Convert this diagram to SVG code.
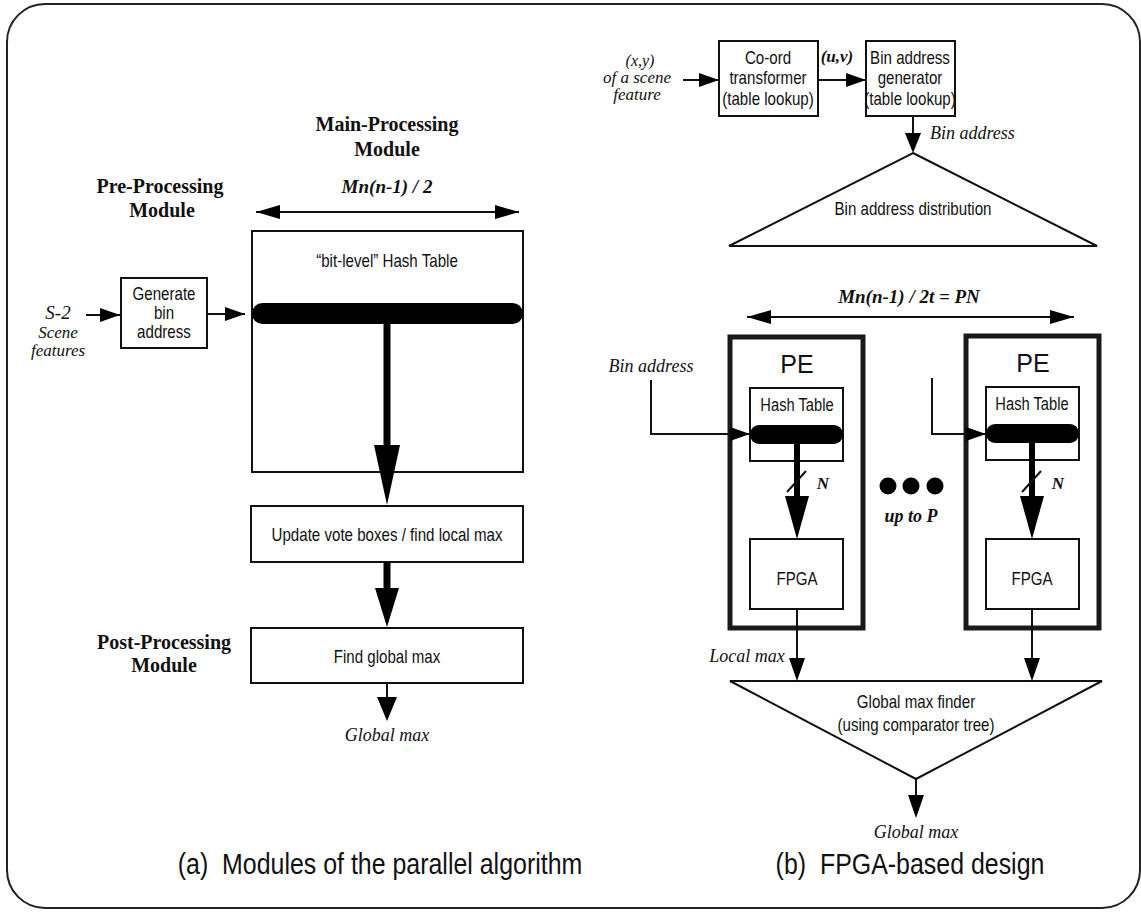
<svg xmlns="http://www.w3.org/2000/svg" width="1141" height="913" viewBox="0 0 1141 913">
  <style>
    .box { fill: #fff; stroke: #111; stroke-width: 2; }
    .pe { fill: #fff; stroke: #1a1a1a; stroke-width: 5; }
    .ln { fill: none; stroke: #111; stroke-width: 2; }
    .thick { fill: none; stroke: #000; stroke-width: 7; }
    .bar { fill: #000; }
    /* condensed sans: horizontal squeeze is applied per text via transform */
    .sans { font-family: "Liberation Sans", Arial, sans-serif; font-size: 18px; fill: #111; text-anchor: middle; }
    .head { font-family: "Liberation Serif", "Times New Roman", serif; font-size: 20px; font-weight: bold; fill: #111; text-anchor: middle; }
    .it { font-family: "Liberation Serif", "Times New Roman", serif; font-size: 18px; font-style: italic; fill: #111; text-anchor: middle; }
    .bi { font-family: "Liberation Serif", "Times New Roman", serif; font-size: 18px; font-style: italic; font-weight: bold; fill: #111; text-anchor: middle; }
    .cap { font-family: "Liberation Sans", Arial, sans-serif; font-size: 29px; fill: #111; text-anchor: middle; }
    .pe-title { font-size: 25px; }
    .start { text-anchor: start; }
    .small { font-size: 17.5px; }
    .s16 { font-size: 16px; }
    .s17 { font-size: 17px; }
    .s19 { font-size: 19px; }
  </style>
  <defs>
    <marker id="ah" viewBox="0 0 20 14" refX="20" refY="7" markerWidth="20" markerHeight="14" markerUnits="userSpaceOnUse" orient="auto-start-reverse">
      <path d="M0,0 L20,7 L0,14 z" fill="#000"/>
    </marker>
    <marker id="ahl" viewBox="0 0 24 14" refX="24" refY="7" markerWidth="24" markerHeight="14" markerUnits="userSpaceOnUse" orient="auto-start-reverse">
      <path d="M0,0 L24,7 L0,14 z" fill="#000"/>
    </marker>
  </defs>

  <!-- outer frame -->
  <rect x="7" y="4" width="1133" height="904" rx="38" ry="38" fill="#fff" stroke="#222" stroke-width="2"/>

  <!-- ===== (a) modules of the parallel algorithm ===== -->
  <g id="label-main">
    <text class="head" x="387" y="131">Main-Processing</text>
    <text class="head" x="387" y="156">Module</text>
  </g>
  <g id="label-pre">
    <text class="head" x="160" y="193">Pre-Processing</text>
    <text class="head" x="162" y="217">Module</text>
  </g>
  <g id="label-post">
    <text class="head" x="164" y="649">Post-Processing</text>
    <text class="head" x="164" y="672">Module</text>
  </g>
  <g id="width-a">
    <text class="bi s19" x="387" y="193">Mn(n-1) / 2</text>
  </g>
  <g id="scene-input">
    <text class="it s19" x="58" y="319">S-2</text>
    <text class="it s17" x="58" y="338">Scene</text>
    <text class="it s17" x="58" y="356">features</text>
  </g>
  <g id="generate-bin">
    <rect class="box" x="121" y="278" width="86" height="70"/>
    <text class="sans" transform="translate(164,300) scale(0.84,1)">Generate</text>
    <text class="sans" transform="translate(164,319) scale(0.84,1)">bin</text>
    <text class="sans" transform="translate(164,338) scale(0.84,1)">address</text>
  </g>
  <g id="hash-table-a">
    <rect class="box" x="252" y="231" width="271" height="241"/>
    <text class="sans" transform="translate(387,267) scale(0.84,1)">“bit-level” Hash Table</text>
    <rect class="bar" x="252" y="303" width="271" height="21" rx="10.5" ry="10.5"/>
  </g>
  <g id="update-votes">
    <rect class="box" x="251" y="506" width="272" height="56"/>
    <text class="sans" transform="translate(387,541) scale(0.84,1)">Update vote boxes / find local max</text>
  </g>
  <g id="find-global">
    <rect class="box" x="251" y="628" width="272" height="55"/>
    <text class="sans" transform="translate(387,663) scale(0.84,1)">Find global max</text>
  </g>
  <g id="out-a">
    <text class="it" x="387" y="741">Global max</text>
  </g>

  <!-- ===== (b) FPGA-based design ===== -->
  <g id="scene-xy">
    <text class="it s16" x="640" y="66">(x,y)</text>
    <text class="it s17" x="637" y="83">of a scene</text>
    <text class="it s17" x="637" y="100">feature</text>
  </g>
  <g id="coord-transformer">
    <rect class="box" x="719" y="41" width="99" height="75"/>
    <text class="sans" transform="translate(768,64) scale(0.84,1)">Co-ord</text>
    <text class="sans" transform="translate(768,84) scale(0.84,1)">transformer</text>
    <text class="sans" transform="translate(768,105) scale(0.84,1)">(table lookup)</text>
  </g>
  <g id="uv-label">
    <text class="bi s17" x="837" y="62">(u,v)</text>
  </g>
  <g id="bin-generator">
    <rect class="box" x="866" y="41" width="89" height="75"/>
    <text class="sans" transform="translate(910,64) scale(0.84,1)">Bin address</text>
    <text class="sans" transform="translate(910,84) scale(0.84,1)">generator</text>
    <text class="sans" transform="translate(910,105) scale(0.84,1)">(table lookup)</text>
  </g>
  <g id="bin-addr-label">
    <text class="it start" x="930" y="139">Bin address</text>
  </g>
  <g id="distribution">
    <polygon points="913,153 1097,246 729,246" fill="#fff" stroke="#111" stroke-width="2"/>
    <text class="sans" transform="translate(913,215) scale(0.84,1)">Bin address distribution</text>
  </g>
  <g id="width-b">
    <text class="bi s19" x="909" y="303">Mn(n-1) / 2t = PN</text>
  </g>
  <g id="bin-addr-in">
    <text class="it" x="651" y="372">Bin address</text>
  </g>

  <g id="pe-1">
    <rect class="pe" x="730" y="337" width="133" height="291"/>
    <text class="sans pe-title" x="797" y="373">PE</text>
    <rect class="box" x="750" y="388" width="93" height="73"/>
    <text class="sans small" transform="translate(797,411) scale(0.84,1)">Hash Table</text>
    <rect class="bar" x="750" y="425" width="93" height="19" rx="9" ry="9"/>
    <rect class="box" x="750" y="539" width="93" height="70"/>
    <text class="sans" transform="translate(797,585) scale(0.84,1)">FPGA</text>
  </g>
  <g id="pe-p">
    <rect class="pe" x="966" y="336" width="133" height="292"/>
    <text class="sans pe-title" x="1033" y="372">PE</text>
    <rect class="box" x="986" y="387" width="93" height="73"/>
    <text class="sans small" transform="translate(1032,410) scale(0.84,1)">Hash Table</text>
    <rect class="bar" x="986" y="424" width="93" height="19" rx="9" ry="9"/>
    <rect class="box" x="986" y="539" width="93" height="70"/>
    <text class="sans" transform="translate(1032,585) scale(0.84,1)">FPGA</text>
  </g>
  <g id="ellipsis">
    <circle cx="888" cy="486" r="8.5" fill="#000"/>
    <circle cx="911" cy="486" r="8.5" fill="#000"/>
    <circle cx="935" cy="486" r="8.5" fill="#000"/>
    <text class="bi" x="911" y="522">up to P</text>
  </g>
  <g id="global-finder">
    <polygon points="730,681 1102,681 916,779" fill="#fff" stroke="#111" stroke-width="2"/>
    <text class="sans" transform="translate(916,708) scale(0.84,1)">Global max finder</text>
    <text class="sans" transform="translate(916,731) scale(0.84,1)">(using comparator tree)</text>
  </g>
  <g id="local-max-label">
    <text class="it" x="747" y="662">Local max</text>
  </g>
  <g id="out-b">
    <text class="it" x="916" y="838">Global max</text>
  </g>

  <!-- captions -->
  <g id="captions">
    <text class="cap" transform="translate(380,874) scale(0.86,1)" xml:space="preserve">(a)  Modules of the parallel algorithm</text>
    <text class="cap" transform="translate(910,874) scale(0.86,1)" xml:space="preserve">(b)  FPGA-based design</text>
  </g>

  <!-- ===== connectors ===== -->
  <g id="connectors">
    <!-- (a) -->
    <line class="ln" x1="256" y1="212" x2="519" y2="212" marker-start="url(#ahl)" marker-end="url(#ahl)"/>
    <line class="ln" x1="86" y1="315" x2="120" y2="315" marker-end="url(#ah)"/>
    <line class="ln" x1="207" y1="314" x2="245" y2="314" marker-end="url(#ah)"/>
    <line class="thick" x1="387" y1="323" x2="387" y2="450"/>
    <polygon points="374,445 400,445 387,505" fill="#000"/>
    <line class="thick" x1="387" y1="562" x2="387" y2="592"/>
    <polygon points="375,588 399,588 387,627" fill="#000"/>
    <line class="ln" x1="387" y1="683" x2="387" y2="700" stroke-width="3"/>
    <polygon points="377,697 397,697 387,721" fill="#000"/>

    <!-- (b) front end -->
    <line class="ln" x1="683" y1="80" x2="719" y2="80" marker-end="url(#ah)"/>
    <line class="ln" x1="818" y1="80" x2="866" y2="80" marker-end="url(#ah)"/>
    <line class="ln" x1="913" y1="116" x2="913" y2="140"/>
    <polygon points="905,133 921,133 913,153" fill="#000"/>
    <line class="ln" x1="747" y1="317" x2="1074" y2="317" marker-start="url(#ahl)" marker-end="url(#ahl)"/>

    <!-- bin address into each PE -->
    <polyline class="ln" points="651,380 651,434 750,434" marker-end="url(#ah)"/>
    <polyline class="ln" points="932,378 932,434 986,434" marker-end="url(#ah)"/>

    <!-- hash table to FPGA, N bits wide -->
    <line x1="797" y1="444" x2="797" y2="500" stroke="#000" stroke-width="6"/>
    <polygon points="785,496 809,496 797,539" fill="#000"/>
    <line class="ln" x1="787" y1="492" x2="806" y2="471"/>
    <text class="bi s17" x="823" y="489">N</text>
    <line x1="1032" y1="443" x2="1032" y2="500" stroke="#000" stroke-width="6"/>
    <polygon points="1020,496 1044,496 1032,539" fill="#000"/>
    <line class="ln" x1="1022" y1="492" x2="1041" y2="471"/>
    <text class="bi s17" x="1058" y="489">N</text>

    <!-- local max into comparator tree -->
    <line class="ln" x1="797" y1="609" x2="797" y2="662"/>
    <polygon points="789,658 805,658 797,681" fill="#000"/>
    <line class="ln" x1="1032" y1="609" x2="1032" y2="662"/>
    <polygon points="1024,658 1040,658 1032,681" fill="#000"/>

    <!-- global max out -->
    <line class="ln" x1="916" y1="779" x2="916" y2="798"/>
    <polygon points="908,795 924,795 916,818" fill="#000"/>
  </g>
</svg>
